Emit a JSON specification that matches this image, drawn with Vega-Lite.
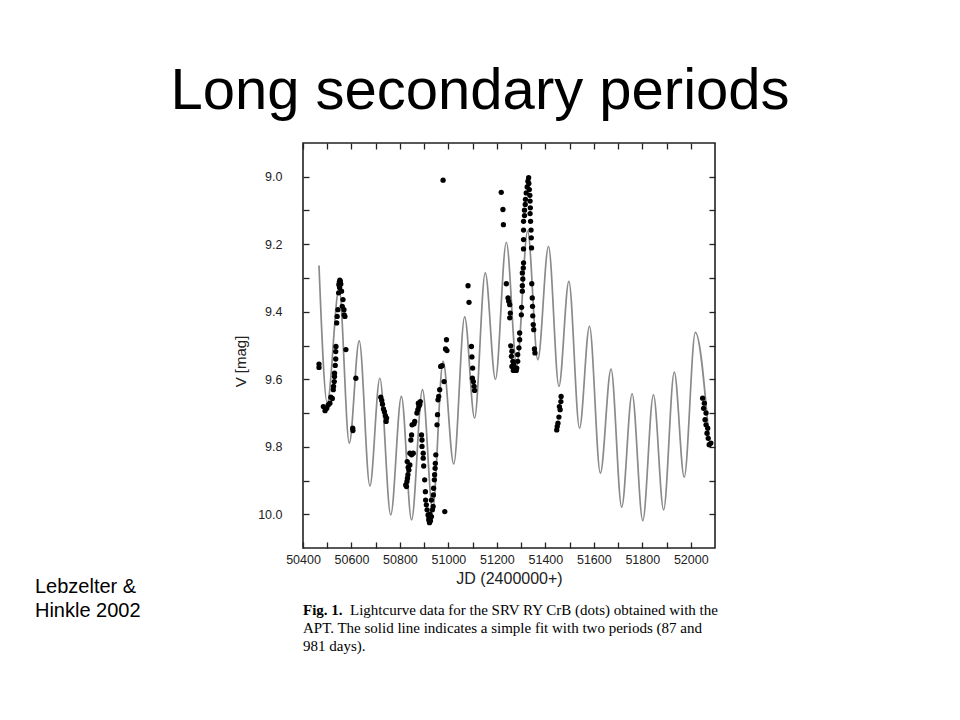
{
  "$schema": "https://vega.github.io/schema/vega-lite/v6.json",
  "width": 412,
  "height": 405,
  "autosize": {"type": "none"},
  "padding": {"left": 303, "top": 143, "right": 245, "bottom": 172},
  "background": "white",
  "title": {"text": "Long secondary periods", "font": "Liberation Sans", "fontSize": 58, "fontWeight": "normal", "color": "#000000", "anchor": "middle", "dx": -29, "dy": 58, "baseline": "alphabetic", "offset": 33},
  "config": {
    "view": {"stroke": "#222222", "strokeWidth": 1.6},
    "axis": {"grid": false, "domain": false, "tickColor": "#222222", "tickWidth": 1.3, "labelFont": "Liberation Sans", "labelColor": "#222222", "titleFont": "Liberation Sans", "titleColor": "#222222", "titleFontWeight": "normal"}
  },
  "datasets": {
    "fit": [
      {"jd": 50466, "fit": 9.263}, {"jd": 50500, "fit": 9.670}, {"jd": 50549, "fit": 9.330}, {"jd": 50591, "fit": 9.789},
      {"jd": 50632, "fit": 9.486}, {"jd": 50676, "fit": 9.916}, {"jd": 50717, "fit": 9.597}, {"jd": 50762, "fit": 10.002},
      {"jd": 50806, "fit": 9.651}, {"jd": 50848, "fit": 10.017}, {"jd": 50893, "fit": 9.631}, {"jd": 50935, "fit": 9.985},
      {"jd": 50978, "fit": 9.547}, {"jd": 51022, "fit": 9.851}, {"jd": 51067, "fit": 9.415}, {"jd": 51108, "fit": 9.715},
      {"jd": 51152, "fit": 9.285}, {"jd": 51194, "fit": 9.600}, {"jd": 51239, "fit": 9.194}, {"jd": 51282, "fit": 9.560},
      {"jd": 51327, "fit": 9.161}, {"jd": 51369, "fit": 9.542}, {"jd": 51413, "fit": 9.206}, {"jd": 51456, "fit": 9.621},
      {"jd": 51497, "fit": 9.310}, {"jd": 51541, "fit": 9.745}, {"jd": 51582, "fit": 9.443}, {"jd": 51627, "fit": 9.878},
      {"jd": 51671, "fit": 9.570}, {"jd": 51715, "fit": 9.979}, {"jd": 51758, "fit": 9.643}, {"jd": 51802, "fit": 10.019},
      {"jd": 51846, "fit": 9.646}, {"jd": 51888, "fit": 9.987}, {"jd": 51932, "fit": 9.579}, {"jd": 51973, "fit": 9.890},
      {"jd": 52019, "fit": 9.461}, {"jd": 52076, "fit": 9.780}
    ],
    "obs": [
      {"jd": 50466, "v": 9.555}, {"jd": 50466, "v": 9.565}, {"jd": 50484, "v": 9.681}, {"jd": 50491, "v": 9.693},
      {"jd": 50498, "v": 9.686}, {"jd": 50504, "v": 9.676}, {"jd": 50511, "v": 9.671}, {"jd": 50515, "v": 9.653},
      {"jd": 50521, "v": 9.657}, {"jd": 50525, "v": 9.631}, {"jd": 50526, "v": 9.621}, {"jd": 50529, "v": 9.607},
      {"jd": 50530, "v": 9.592}, {"jd": 50530, "v": 9.582}, {"jd": 50533, "v": 9.559}, {"jd": 50535, "v": 9.540},
      {"jd": 50535, "v": 9.518}, {"jd": 50536, "v": 9.503}, {"jd": 50539, "v": 9.433}, {"jd": 50541, "v": 9.414},
      {"jd": 50544, "v": 9.394}, {"jd": 50547, "v": 9.344}, {"jd": 50548, "v": 9.320}, {"jd": 50550, "v": 9.312},
      {"jd": 50552, "v": 9.306}, {"jd": 50554, "v": 9.310}, {"jd": 50556, "v": 9.318}, {"jd": 50551, "v": 9.328},
      {"jd": 50559, "v": 9.339}, {"jd": 50565, "v": 9.364}, {"jd": 50562, "v": 9.384}, {"jd": 50569, "v": 9.394},
      {"jd": 50570, "v": 9.409}, {"jd": 50573, "v": 9.414}, {"jd": 50577, "v": 9.512}, {"jd": 50605, "v": 9.745},
      {"jd": 50606, "v": 9.752}, {"jd": 50618, "v": 9.597},
      {"jd": 50721, "v": 9.653}, {"jd": 50725, "v": 9.663}, {"jd": 50728, "v": 9.674}, {"jd": 50732, "v": 9.688},
      {"jd": 50736, "v": 9.696}, {"jd": 50740, "v": 9.708}, {"jd": 50745, "v": 9.715}, {"jd": 50743, "v": 9.725},
      {"jd": 50824, "v": 9.913}, {"jd": 50827, "v": 9.918}, {"jd": 50831, "v": 9.893}, {"jd": 50829, "v": 9.903},
      {"jd": 50837, "v": 9.869}, {"jd": 50833, "v": 9.883}, {"jd": 50841, "v": 9.854}, {"jd": 50830, "v": 9.844},
      {"jd": 50834, "v": 9.861}, {"jd": 50848, "v": 9.824}, {"jd": 50841, "v": 9.819}, {"jd": 50855, "v": 9.819},
      {"jd": 50845, "v": 9.780}, {"jd": 50848, "v": 9.765}, {"jd": 50850, "v": 9.735}, {"jd": 50858, "v": 9.732},
      {"jd": 50861, "v": 9.725},
      {"jd": 50870, "v": 9.700}, {"jd": 50874, "v": 9.690}, {"jd": 50878, "v": 9.681}, {"jd": 50882, "v": 9.675},
      {"jd": 50884, "v": 9.666}, {"jd": 50876, "v": 9.671},
      {"jd": 50889, "v": 9.765}, {"jd": 50891, "v": 9.780}, {"jd": 50891, "v": 9.799}, {"jd": 50896, "v": 9.819},
      {"jd": 50896, "v": 9.834}, {"jd": 50898, "v": 9.857}, {"jd": 50902, "v": 9.898}, {"jd": 50905, "v": 9.933},
      {"jd": 50906, "v": 9.958}, {"jd": 50909, "v": 9.972}, {"jd": 50912, "v": 9.987}, {"jd": 50916, "v": 10.002},
      {"jd": 50919, "v": 10.017}, {"jd": 50922, "v": 10.025}, {"jd": 50926, "v": 10.019}, {"jd": 50930, "v": 10.007},
      {"jd": 50934, "v": 9.987}, {"jd": 50937, "v": 9.977}, {"jd": 50930, "v": 9.958}, {"jd": 50920, "v": 10.010},
      {"jd": 50924, "v": 10.000},
      {"jd": 50938, "v": 9.943}, {"jd": 50939, "v": 9.923}, {"jd": 50942, "v": 9.898}, {"jd": 50943, "v": 9.883},
      {"jd": 50945, "v": 9.864}, {"jd": 50946, "v": 9.849}, {"jd": 50948, "v": 9.824}, {"jd": 50953, "v": 9.735},
      {"jd": 50955, "v": 9.705}, {"jd": 50957, "v": 9.661}, {"jd": 50960, "v": 9.651}, {"jd": 50964, "v": 9.631},
      {"jd": 50968, "v": 9.562}, {"jd": 50974, "v": 9.560}, {"jd": 50982, "v": 9.607}, {"jd": 50988, "v": 9.510},
      {"jd": 50992, "v": 9.483}, {"jd": 50994, "v": 9.515}, {"jd": 50985, "v": 9.992}, {"jd": 50978, "v": 9.010},
      {"jd": 51081, "v": 9.323}, {"jd": 51085, "v": 9.372}, {"jd": 51095, "v": 9.503}, {"jd": 51097, "v": 9.534},
      {"jd": 51100, "v": 9.567}, {"jd": 51099, "v": 9.597}, {"jd": 51103, "v": 9.607}, {"jd": 51106, "v": 9.621},
      {"jd": 51108, "v": 9.633},
      {"jd": 51218, "v": 9.046}, {"jd": 51225, "v": 9.097}, {"jd": 51227, "v": 9.142}, {"jd": 51239, "v": 9.317},
      {"jd": 51246, "v": 9.359}, {"jd": 51249, "v": 9.369}, {"jd": 51253, "v": 9.379}, {"jd": 51253, "v": 9.418},
      {"jd": 51255, "v": 9.404}, {"jd": 51257, "v": 9.501}, {"jd": 51262, "v": 9.517}, {"jd": 51260, "v": 9.532},
      {"jd": 51266, "v": 9.547}, {"jd": 51262, "v": 9.562}, {"jd": 51268, "v": 9.574}, {"jd": 51269, "v": 9.557},
      {"jd": 51273, "v": 9.570}, {"jd": 51280, "v": 9.574}, {"jd": 51282, "v": 9.567}, {"jd": 51286, "v": 9.547},
      {"jd": 51286, "v": 9.527}, {"jd": 51291, "v": 9.507}, {"jd": 51294, "v": 9.483}, {"jd": 51294, "v": 9.463},
      {"jd": 51301, "v": 9.409}, {"jd": 51302, "v": 9.387}, {"jd": 51305, "v": 9.339}, {"jd": 51305, "v": 9.323},
      {"jd": 51307, "v": 9.303}, {"jd": 51305, "v": 9.285}, {"jd": 51309, "v": 9.270}, {"jd": 51310, "v": 9.255},
      {"jd": 51310, "v": 9.214}, {"jd": 51310, "v": 9.186}, {"jd": 51310, "v": 9.158}, {"jd": 51310, "v": 9.132},
      {"jd": 51314, "v": 9.115}, {"jd": 51314, "v": 9.099}, {"jd": 51317, "v": 9.082}, {"jd": 51318, "v": 9.067},
      {"jd": 51321, "v": 9.048}, {"jd": 51325, "v": 9.030}, {"jd": 51328, "v": 9.013}, {"jd": 51331, "v": 9.003},
      {"jd": 51332, "v": 9.020}, {"jd": 51334, "v": 9.038}, {"jd": 51336, "v": 9.055}, {"jd": 51337, "v": 9.072},
      {"jd": 51338, "v": 9.092}, {"jd": 51337, "v": 9.109}, {"jd": 51339, "v": 9.132}, {"jd": 51341, "v": 9.158},
      {"jd": 51342, "v": 9.181}, {"jd": 51343, "v": 9.211}, {"jd": 51344, "v": 9.317}, {"jd": 51346, "v": 9.359},
      {"jd": 51347, "v": 9.384}, {"jd": 51348, "v": 9.412}, {"jd": 51350, "v": 9.438}, {"jd": 51352, "v": 9.453},
      {"jd": 51355, "v": 9.510}, {"jd": 51357, "v": 9.522},
      {"jd": 51465, "v": 9.651}, {"jd": 51464, "v": 9.666}, {"jd": 51458, "v": 9.681}, {"jd": 51461, "v": 9.690},
      {"jd": 51456, "v": 9.712}, {"jd": 51452, "v": 9.730}, {"jd": 51449, "v": 9.740}, {"jd": 51447, "v": 9.750},
      {"jd": 52049, "v": 9.656}, {"jd": 52056, "v": 9.671}, {"jd": 52053, "v": 9.686}, {"jd": 52063, "v": 9.700},
      {"jd": 52059, "v": 9.720}, {"jd": 52063, "v": 9.735}, {"jd": 52070, "v": 9.745}, {"jd": 52067, "v": 9.760},
      {"jd": 52072, "v": 9.775}, {"jd": 52076, "v": 9.794}, {"jd": 52083, "v": 9.789}
    ],
    "one": [{"id": 1}]
  },
  "layer": [
    {
      "data": {"name": "fit"},
      "mark": {"type": "line", "interpolate": "monotone", "color": "#8a8a8a", "strokeWidth": 1.7},
      "encoding": {
        "x": {"field": "jd", "type": "quantitative", "scale": {"domain": [50400, 52100], "nice": false, "zero": false},
              "axis": {"orient": "top", "values": [50400,50500,50600,50700,50800,50900,51000,51100,51200,51300,51400,51500,51600,51700,51800,51900,52000], "labels": false, "tickSize": -6, "title": null}},
        "y": {"field": "fit", "type": "quantitative", "scale": {"domain": [8.9, 10.1], "reverse": true, "nice": false, "zero": false},
              "axis": {"orient": "right", "values": [9.0,9.1,9.2,9.3,9.4,9.5,9.6,9.7,9.8,9.9,10.0], "labels": false, "tickSize": -6, "title": null}}
      }
    },
    {
      "data": {"name": "obs"},
      "mark": {"type": "circle", "size": 28, "color": "#000000", "opacity": 1},
      "encoding": {
        "x": {"field": "jd", "type": "quantitative", "scale": {"domain": [50400, 52100], "nice": false, "zero": false},
              "axis": {"orient": "bottom", "values": [50400,50500,50600,50700,50800,50900,51000,51100,51200,51300,51400,51500,51600,51700,51800,51900,52000], "format": "d", "labelExpr": "datum.value % 200 === 0 ? datum.label : ''", "labelFlush": false, "labelOverlap": false, "tickSize": -6, "labelPadding": 11, "labelFontSize": 12.5, "title": "JD (2400000+)", "titleFontSize": 16, "titleBaseline": "alphabetic", "titleY": 35}},
        "y": {"field": "v", "type": "quantitative", "scale": {"domain": [8.9, 10.1], "reverse": true, "nice": false, "zero": false},
              "axis": {"orient": "left", "values": [9.0,9.1,9.2,9.3,9.4,9.5,9.6,9.7,9.8,9.9,10.0], "format": ".1f", "labelExpr": "round(datum.value * 10) % 2 === 0 ? datum.label : ''", "tickSize": -6, "labelPadding": 27, "labelFontSize": 12.5, "title": "V [mag]", "titleFontSize": 15, "titleBaseline": "alphabetic", "titleX": -58, "titleY": 218}}
      }
    },
    {
      "data": {"name": "one"},
      "mark": {"type": "text", "text": ["Lebzelter &", "Hinkle 2002"], "align": "left", "baseline": "alphabetic", "font": "Liberation Sans", "fontSize": 20, "lineHeight": 24, "color": "#000000"},
      "encoding": {
        "x": {"datum": 49294, "type": "quantitative", "scale": {"domain": [50400, 52100], "nice": false, "zero": false}, "axis": null},
        "y": {"datum": 10.233, "type": "quantitative", "scale": {"domain": [8.9, 10.1], "reverse": true, "nice": false, "zero": false}, "axis": null}
      }
    },
    {
      "data": {"name": "one"},
      "mark": {"type": "text", "text": "Fig. 1.", "align": "left", "baseline": "alphabetic", "font": "Liberation Serif", "fontSize": 15, "fontWeight": "bold", "color": "#000000"},
      "encoding": {
        "x": {"datum": 50400, "type": "quantitative", "scale": {"domain": [50400, 52100], "nice": false, "zero": false}, "axis": null},
        "y": {"datum": 10.298, "type": "quantitative", "scale": {"domain": [8.9, 10.1], "reverse": true, "nice": false, "zero": false}, "axis": null}
      }
    },
    {
      "data": {"name": "one"},
      "mark": {"type": "text", "text": "Lightcurve data for the SRV RY CrB (dots) obtained with the", "align": "left", "baseline": "alphabetic", "font": "Liberation Serif", "fontSize": 15, "dx": 47, "color": "#000000"},
      "encoding": {
        "x": {"datum": 50400, "type": "quantitative", "scale": {"domain": [50400, 52100], "nice": false, "zero": false}, "axis": null},
        "y": {"datum": 10.298, "type": "quantitative", "scale": {"domain": [8.9, 10.1], "reverse": true, "nice": false, "zero": false}, "axis": null}
      }
    },
    {
      "data": {"name": "one"},
      "mark": {"type": "text", "text": ["APT. The solid line indicates a simple fit with two periods (87 and", "981 days)."], "align": "left", "baseline": "alphabetic", "font": "Liberation Serif", "fontSize": 15, "lineHeight": 18, "color": "#000000"},
      "encoding": {
        "x": {"datum": 50400, "type": "quantitative", "scale": {"domain": [50400, 52100], "nice": false, "zero": false}, "axis": null},
        "y": {"datum": 10.352, "type": "quantitative", "scale": {"domain": [8.9, 10.1], "reverse": true, "nice": false, "zero": false}, "axis": null}
      }
    }
  ],
  "resolve": {"axis": {"x": "independent", "y": "independent"}}
}
